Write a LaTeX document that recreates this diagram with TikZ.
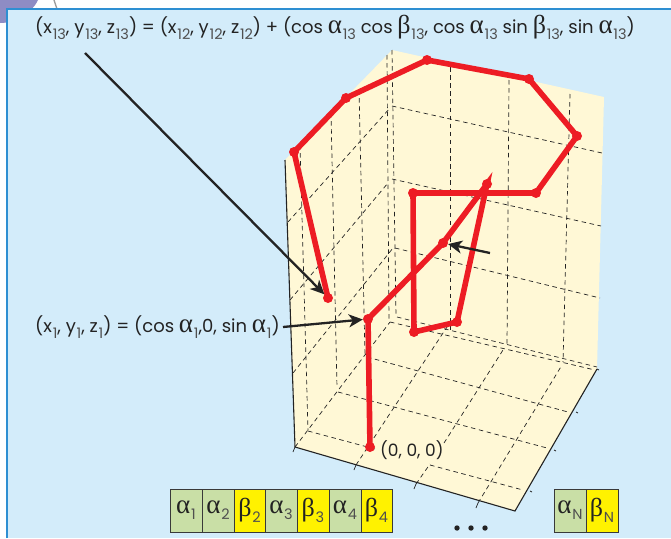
\documentclass[tikz,border=0pt]{standalone}
\usepackage{fontspec}
\setmainfont{Poppins}
\newfontfamily\grk{Liberation Serif}
\usetikzlibrary{arrows.meta}
\definecolor{panel}{HTML}{D3ECFA}
\definecolor{paneledge}{HTML}{2E8FD2}
\definecolor{wall}{HTML}{FFF8D6}
\definecolor{redline}{HTML}{ED1C24}
\definecolor{ink}{HTML}{232323}
\definecolor{cellgreen}{HTML}{C9DFA6}
\definecolor{cellyellow}{HTML}{FFF200}
\definecolor{blob}{HTML}{8E8CC4}
\newcommand{\al}{{\grk\fontsize{27}{27}\selectfont α}}
\newcommand{\be}{{\grk\fontsize{26}{26}\selectfont β}}
\newcommand{\dn}[1]{\kern.8pt\raisebox{-6pt}{\fontsize{14.5}{15}\selectfont\color{ink!80}#1}}
\tikzset{
  grid line/.style={draw=ink,line width=.7pt,dash pattern=on 4.5pt off 3.6pt},
  edge line/.style={draw=ink,line width=1.1pt},
  tick/.style={draw=ink,line width=.7pt},
  chain/.style={draw=redline,line width=5.6pt},
  joint/.style={circle,fill=redline,inner sep=0pt,minimum size=10pt},
  pointer/.style={draw=ink,line width=2.3pt,-{Stealth[length=14pt,width=13pt,inset=4pt]}},
  label/.style={inner sep=0pt,text=ink,font=\fontsize{18}{22}\selectfont},
  origin label/.style={inner sep=0pt,text=ink,font=\fontsize{17}{22}\selectfont},
  cell/.style={draw=ink!90,line width=1pt,minimum height=43pt,inner sep=0pt,text=ink,font=\fontsize{18}{22}\selectfont},
}
\begin{document}
\begin{tikzpicture}[x=1pt,y=-1pt]
\useasboundingbox (0,0) rectangle (671,538);
\fill[white] (0,0) rectangle (671,538);
% ornament behind the panel
\fill[blob] (0,0) -- (38,0) .. controls (34,8) and (30,12) .. (22,14) .. controls (14,22) and (6,23) .. (0,23) -- cycle;
\draw[ink!45,line width=1.4pt] (54,0) -- (57,9);
% panel
\fill[panel] (7,9) rectangle (671,538);
\draw[paneledge,line width=1.1pt] (7,538) -- (7,9) -- (671,9);
% box surface
\fill[wall] (285,160) -- (392,50) -- (604,97) -- (597,369) -- (515,511) -- (295,447) -- cycle;
% back wall dashes
\coordinate (bw1a) at (392,106); \coordinate (bw1b) at (602,153);
\coordinate (bw2a) at (392,179); \coordinate (bw2b) at (601,226);
\coordinate (bw3a) at (395,248); \coordinate (bw3b) at (600,298);
\coordinate (bw4a) at (397,317); \coordinate (bw4b) at (597,367);
\draw[grid line] (bw1a) -- (bw1b);
\draw[grid line] (bw2a) -- (bw2b);
\draw[grid line] (bw3a) -- (bw3b);
\draw[grid line] (bw4a) -- (bw4b);
\draw[grid line] (392,50) -- (396,317);
\draw[grid line] (387,55) -- (389,322);
\draw[grid line] (450,67) -- (450,330);
\draw[grid line] (509,80) -- (507,345);
\draw[grid line] (570,94) -- (563,362);
% left wall dashes
\draw[grid line] (288,222) -- (390,108);
\draw[grid line] (290,300) -- (388,183);
\draw[grid line] (293,373) -- (393,248);
\draw[grid line] (300,145) -- (308,430);
\draw[grid line] (331,113) -- (337,388);
\draw[grid line] (359,90) -- (365,355);
% floor dashes
\draw[grid line] (295,447) -- (390,322);
\draw[grid line] (356,465) -- (447,327);
\draw[grid line] (416,484) -- (430,464);
\draw[grid line] (444,443) -- (503,350);
\draw[grid line] (478,503) -- (562,365);
\draw[grid line] (308,431) -- (375,449);
\draw[grid line] (430,465) -- (523,490);
\draw[grid line] (338,392) -- (547,448);
\draw[grid line] (367,357) -- (568,412);
\draw[grid line] (390,322) -- (595,370);
% box edges
\draw[edge line] (285,160) -- (295,447) -- (515,511) -- (597,369);
\foreach \tx/\ty/\ux/\uy in {295/447/293/452, 356/465/354/470, 416/484/414/489, 478/503/476/508}
  \draw[tick] (\tx,\ty) -- (\ux,\uy);
\foreach \tx/\ty/\ux/\uy in {530/491/532/492, 554/450/556/451, 576/412/578/413, 597/369/599/370}
  \draw[tick] (\tx,\ty) -- (\ux,\uy);
% chain joints
\node[joint] (p0) at (370,447) {};
\node[joint] (p1) at (368,319) {};
\node[joint] (pm) at (443,243) {};
\node[joint] (p2) at (487,184) {};
\node[joint] (p3) at (457,322) {};
\node[joint] (p4) at (414,332) {};
\node[joint] (p5) at (413,193) {};
\node[joint] (p6) at (536,193) {};
\node[joint] (p7) at (577,136) {};
\node[joint] (p8) at (529,79) {};
\node[joint] (p9) at (427,60) {};
\node[joint] (p10) at (346,98) {};
\node[joint] (p11) at (294,152) {};
\node[joint] (p12) at (328,298) {};
\draw[chain] (p0.center) -- (p1.center) -- (pm.center) -- (p2.center) -- (p3.center) -- (p4.center) -- (p5.center) -- (p6.center) -- (p7.center) -- (p8.center) -- (p9.center) -- (p10.center) -- (p11.center) -- (p12.center);
% labels
\node[label,anchor=west] (top) at (35,27) {(x\dn{13}, y\dn{13}, z\dn{13}) = (x\dn{12}, y\dn{12}, z\dn{12}) + (cos \al\dn{13} cos \be\dn{13}, cos \al\dn{13} sin \be\dn{13}, sin \al\dn{13})};
\node[label,anchor=west] (first) at (35,327) {(x\dn{1}, y\dn{1}, z\dn{1}) = (cos \al\dn{1},0, sin \al\dn{1})};
\node[origin label,anchor=west] (origin) at (380,450) {(0, 0, 0)};
% pointers
\coordinate (topstart) at (85,53);
\coordinate (firststart) at (283,327);
\coordinate (midstart) at (490,253);
\draw[pointer] (topstart) -- (p12);
\draw[pointer] (firststart) -- (p1);
\draw[pointer] (midstart) -- (pm);
% cells
\node[cell,fill=cellgreen,minimum width=32pt] (c1) at (186,510.5) {\al\dn{1}};
\node[cell,fill=cellgreen,minimum width=32pt] (c2) at (218,510.5) {\al\dn{2}};
\node[cell,fill=cellyellow,minimum width=31pt] (c3) at (249.5,510.5) {\be\dn{2}};
\node[cell,fill=cellgreen,minimum width=32pt] (c4) at (281,510.5) {\al\dn{3}};
\node[cell,fill=cellyellow,minimum width=32pt] (c5) at (313,510.5) {\be\dn{3}};
\node[cell,fill=cellgreen,minimum width=32pt] (c6) at (345,510.5) {\al\dn{4}};
\node[cell,fill=cellyellow,minimum width=31pt] (c7) at (376.5,510.5) {\be\dn{4}};
\node[cell,fill=cellgreen,minimum width=32pt] (c8) at (570,510.5) {\al\dn{N}};
\node[cell,fill=cellyellow,minimum width=32pt] (c9) at (602,510.5) {\be\dn{N}};
% dots
\foreach \dx in {457,471,485} \fill[ink] (\dx,528) circle (2.7pt);
\end{tikzpicture}
\end{document}
